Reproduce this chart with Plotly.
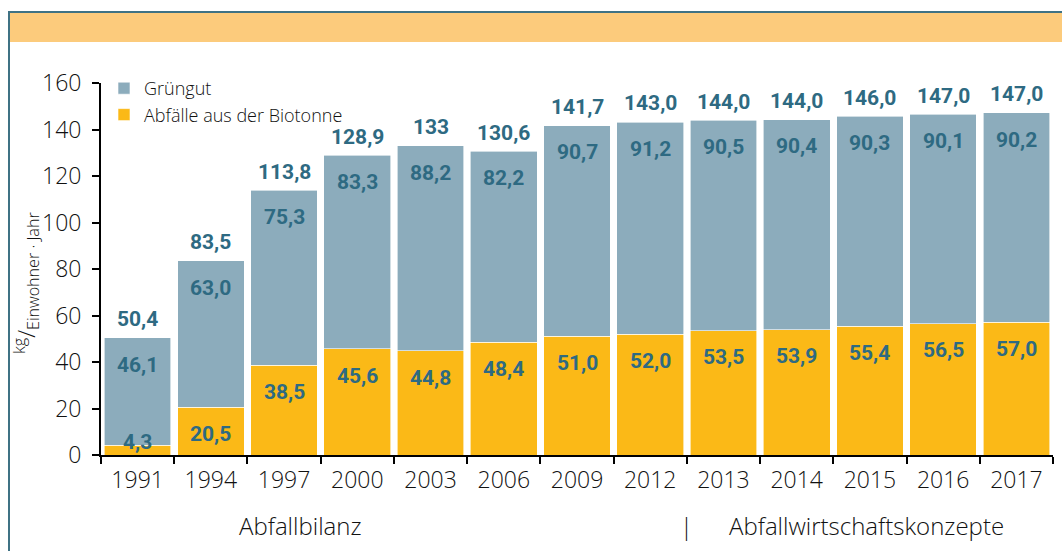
import plotly.graph_objects as go

years = ["1991", "1994", "1997", "2000", "2003", "2006", "2009", "2012", "2013", "2014", "2015", "2016", "2017"]
gruengut = [46.1, 63.0, 75.3, 83.3, 88.2, 82.2, 90.7, 91.2, 90.5, 90.4, 90.3, 90.1, 90.2]
biotonne = [4.3, 20.5, 38.5, 45.6, 44.8, 48.4, 51.0, 52.0, 53.5, 53.9, 55.4, 56.5, 57.0]
total_labels = ["50,4", "83,5", "113,8", "128,9", "133", "130,6", "141,7", "143,0", "144,0", "144,0", "146,0", "147,0", "147,0"]

BLUE = "#8CACBC"
YELLOW = "#FBB917"
LABEL = "#2E6A82"
LBL_FONT = "Roboto, Liberation Sans Narrow, DejaVu Sans Condensed, sans-serif"
TXT_FONT = "Open Sans, Liberation Sans, Arial, sans-serif"
TXT_COLOR = "#111111"

def de(v):
    return f"{v:.1f}".replace(".", ",")

fig = go.Figure()
fig.add_trace(go.Bar(x=years, y=biotonne, name="Abfälle aus der Biotonne",
                     marker=dict(color=YELLOW, line=dict(color="white", width=0.6))))
fig.add_trace(go.Bar(x=years, y=gruengut, name="Grüngut",
                     marker=dict(color=BLUE, line=dict(color="white", width=0.6))))

lbl_font = dict(family=LBL_FONT, size=21, color=LABEL, weight="bold")
annotations = []
for i, yr in enumerate(years):
    b = biotonne[i]
    g = gruengut[i]
    tot = b + g
    yb = b - 11.5 if b > 15 else b + 1.4
    annotations.append(dict(xref="x", yref="y", x=i, y=yb, text=de(b), showarrow=False,
                            xanchor="center", yanchor="middle", font=lbl_font))
    annotations.append(dict(xref="x", yref="y", x=i, y=tot - 11.5, text=de(g), showarrow=False,
                            xanchor="center", yanchor="middle", font=lbl_font))
    annotations.append(dict(xref="x", yref="y", x=i, y=tot + 8, text=total_labels[i], showarrow=False,
                            xanchor="center", yanchor="middle", font=lbl_font))

W, H = 1062, 551
L, R, T, B = 101, 9, 83, 96
pw, ph = W - L - R, H - T - B
def px(x):
    return (x - L) / pw
def py(y):
    return (H - B - y) / ph

annotations.append(dict(xref="paper", yref="paper", x=px(26), y=py(283), textangle=-90,
                        xanchor="center", yanchor="middle",
                        text="<sup>kg</sup>/<sub>Einwohner · Jahr</sub>", showarrow=False,
                        font=dict(family=TXT_FONT, size=23, color=TXT_COLOR, weight=300)))
bottom_font = dict(family=TXT_FONT, size=24, color=TXT_COLOR, weight=300)
annotations.append(dict(xref="paper", yref="paper", x=px(300), y=py(525), text="Abfallbilanz",
                        xanchor="center", yanchor="middle", showarrow=False, font=bottom_font))
annotations.append(dict(xref="paper", yref="paper", x=px(686), y=py(525), text="|",
                        xanchor="center", yanchor="middle", showarrow=False, font=bottom_font))
annotations.append(dict(xref="paper", yref="paper", x=px(866), y=py(525), text="Abfallwirtschaftskonzepte",
                        xanchor="center", yanchor="middle", showarrow=False, font=bottom_font))

shapes = [
    dict(type="rect", xref="paper", yref="paper", x0=px(10), x1=px(1075), y0=py(13), y1=py(42),
         fillcolor="#FCCB7C", line=dict(width=0), layer="below"),
    dict(type="rect", xref="paper", yref="paper", x0=px(9), x1=px(1075), y0=py(12), y1=py(570),
         fillcolor="rgba(0,0,0,0)", line=dict(color="#3F7284", width=2), layer="below"),
]

fig.update_layout(
    width=W, height=H,
    margin=dict(l=L, r=R, t=T, b=B),
    barmode="stack", bargap=0.09,
    plot_bgcolor="white", paper_bgcolor="white",
    showlegend=True,
    legend=dict(x=px(104), y=py(70), xanchor="left", yanchor="top", traceorder="reversed",
                bgcolor="rgba(0,0,0,0)", font=dict(family=TXT_FONT, size=18, color=TXT_COLOR, weight=300),
                itemwidth=30, tracegroupgap=0),
    xaxis=dict(type="category", range=[-0.5, 12.5], showline=True, linecolor="black", linewidth=2,
               ticks="outside", ticklen=7, tickwidth=2, tickcolor="black", tickson="boundaries",
               tickfont=dict(family=TXT_FONT, size=23, color=TXT_COLOR, weight=300), showgrid=False,
               ticklabelstandoff=3, tickangle=0),
    yaxis=dict(range=[0, 160], tickvals=[0, 20, 40, 60, 80, 100, 120, 140, 160],
               showline=True, linecolor="black", linewidth=2, ticks="outside", ticklen=7,
               tickwidth=2, tickcolor="black", showgrid=False, zeroline=False,
               tickfont=dict(family=TXT_FONT, size=23, color=TXT_COLOR, weight=300), ticklabelstandoff=6),
    annotations=annotations,
    shapes=shapes,
)

fig.write_html("out.html", config={"displayModeBar": False},
               post_script="document.body.style.margin='0';")
